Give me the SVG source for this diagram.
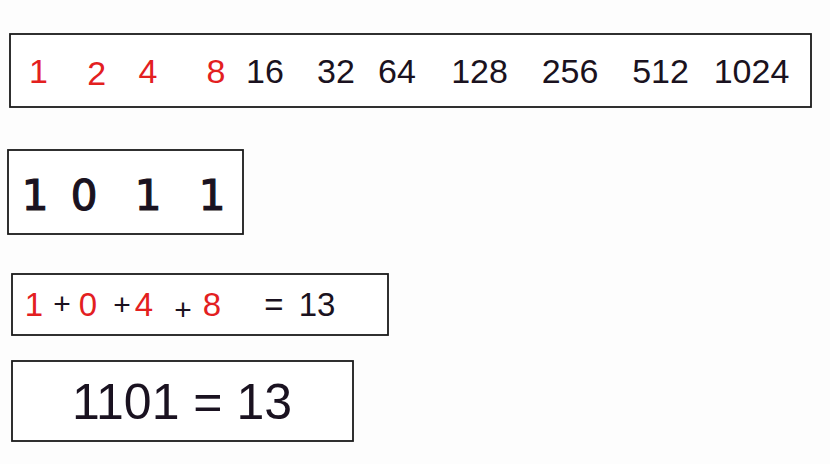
<svg xmlns="http://www.w3.org/2000/svg" width="830" height="464" viewBox="0 0 830 464">
<style>
.box{fill:#fff;stroke:#1a1a1a;stroke-width:1.8}
text{font-family:"Liberation Sans",Arial,sans-serif;text-anchor:middle}
.r{fill:#e3201f}
.k{fill:#1a1220}
.n{font-size:34px}
.m{font-family:"DejaVu Sans",sans-serif;font-size:42px;stroke:#1a1220;stroke-width:1.2}
.e{font-size:33px}
.p{font-size:30px}
.big{font-size:50px}
</style>
<rect width="830" height="464" fill="#fdfdfd"/>
<g id="powers">
<rect class="box" x="10" y="34" width="801" height="73"/>
<text class="n r" x="38.5" y="83">1</text>
<text class="n r" x="96.7" y="85">2</text>
<text class="n r" x="148" y="83">4</text>
<text class="n r" x="216" y="83">8</text>
<text class="n k" x="265" y="83">16</text>
<text class="n k" x="336" y="83">32</text>
<text class="n k" x="397" y="83">64</text>
<text class="n k" x="479.5" y="83">128</text>
<text class="n k" x="570" y="83">256</text>
<text class="n k" x="660.5" y="83">512</text>
<text class="n k" x="751.5" y="83">1024</text>
</g>
<g id="binary">
<rect class="box" x="8" y="150" width="235" height="84"/>
<text class="m k" x="35" y="210">1</text>
<text class="m k" x="84" y="210">0</text>
<text class="m k" x="148" y="210">1</text>
<text class="m k" x="212" y="210">1</text>
</g>
<g id="sum">
<rect class="box" x="12" y="274" width="376" height="61"/>
<text class="e r" x="34" y="316">1</text>
<text class="p k" x="62" y="314">+</text>
<text class="e r" x="88" y="316">0</text>
<text class="p k" x="122" y="315">+</text>
<text class="e r" x="144" y="316">4</text>
<text class="p k" x="183" y="320">+</text>
<text class="e r" x="212" y="316">8</text>
<text class="e k" x="274" y="316">=</text>
<text class="e k" x="317" y="316">13</text>
</g>
<g id="result">
<rect class="box" x="12" y="361" width="341" height="80"/>
<text class="big k" x="182" y="419">1101 = 13</text>
</g>
</svg>
